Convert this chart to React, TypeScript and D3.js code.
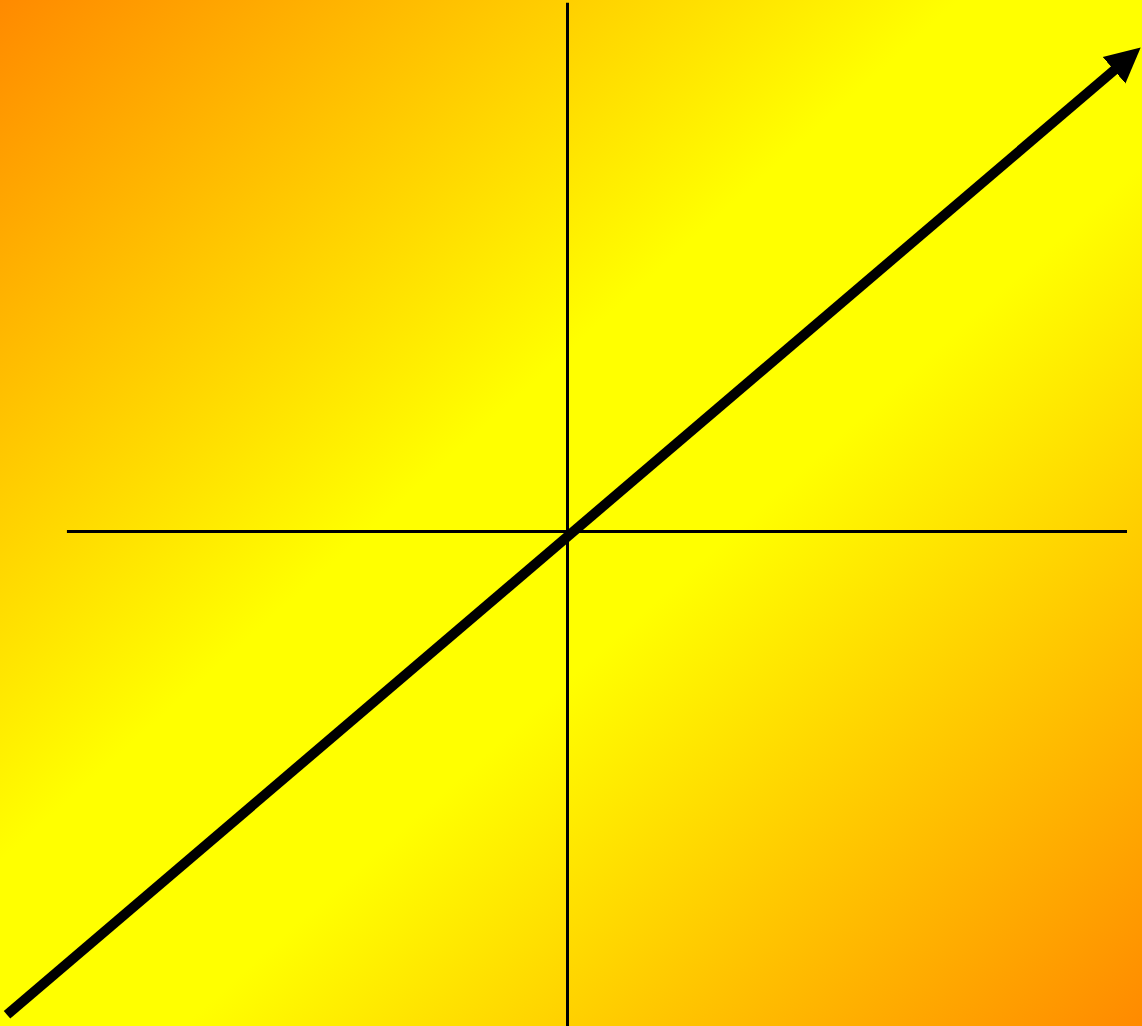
import React, { useRef, useEffect } from "react";
import { select, scaleLinear, line } from "d3";

const width = 1142;
const height = 1026;

// axis extents, in chart units
const xAxisExtent = [-8.93, 10];
const yAxisExtent = [-10.36, 11.05];

// the line y ≈ x, drawn as an arrow
const lineX = [-10, 10];
const lineY = [-10.12, 9.87];

// background gradient stops
const gradientOffsets = [0, 0.42, 0.58, 1];
const gradientColors = ["#ff8a00", "#ffff00", "#ffff00", "#ff8a00"];

function App() {
  const svgRef = useRef<SVGSVGElement | null>(null);

  useEffect(() => {
    const svg = select(svgRef.current);
    svg.selectAll("*").remove();

    const xScale = scaleLinear().domain([-10, 10]).range([7, 1127]);
    const yScale = scaleLinear().domain([-10, 10]).range([1009, 53]);

    const defs = svg.append("defs");
    const grad = defs
      .append("linearGradient")
      .attr("id", "bg")
      .attr("x1", 0)
      .attr("y1", 0)
      .attr("x2", 1)
      .attr("y2", 1);
    grad
      .selectAll("stop")
      .data(gradientOffsets)
      .join("stop")
      .attr("offset", (d) => d)
      .attr("stop-color", (d, i) => gradientColors[i]);

    defs
      .append("marker")
      .attr("id", "arrow")
      .attr("markerUnits", "userSpaceOnUse")
      .attr("viewBox", "0 -18 36 36")
      .attr("markerWidth", 36)
      .attr("markerHeight", 36)
      .attr("refX", 17)
      .attr("refY", 0)
      .attr("orient", "auto")
      .append("path")
      .attr("d", "M0,-17.5L35,0L0,17.5Z")
      .attr("fill", "#000");

    svg
      .append("rect")
      .attr("width", width)
      .attr("height", height)
      .attr("fill", "url(#bg)");

    // axes
    svg
      .append("line")
      .attr("x1", xScale(xAxisExtent[0]))
      .attr("x2", xScale(xAxisExtent[1]))
      .attr("y1", yScale(0) + 0.5)
      .attr("y2", yScale(0) + 0.5)
      .attr("stroke", "#000")
      .attr("stroke-width", 3);

    svg
      .append("line")
      .attr("x1", xScale(0) + 0.5)
      .attr("x2", xScale(0) + 0.5)
      .attr("y1", yScale(yAxisExtent[1]))
      .attr("y2", yScale(yAxisExtent[0]))
      .attr("stroke", "#000")
      .attr("stroke-width", 3);

    const arrowLine = line<number>()
      .x((d) => xScale(d))
      .y((d, i) => yScale(lineY[i]));

    svg
      .append("path")
      .attr("d", arrowLine(lineX))
      .attr("fill", "none")
      .attr("stroke", "#000")
      .attr("stroke-width", 10)
      .attr("marker-end", "url(#arrow)");
  }, []);

  return (
    <svg
      ref={svgRef}
      width={width}
      height={height}
      style={{ position: "fixed", top: 0, left: 0, display: "block" }}
    />
  );
}

export default App;
